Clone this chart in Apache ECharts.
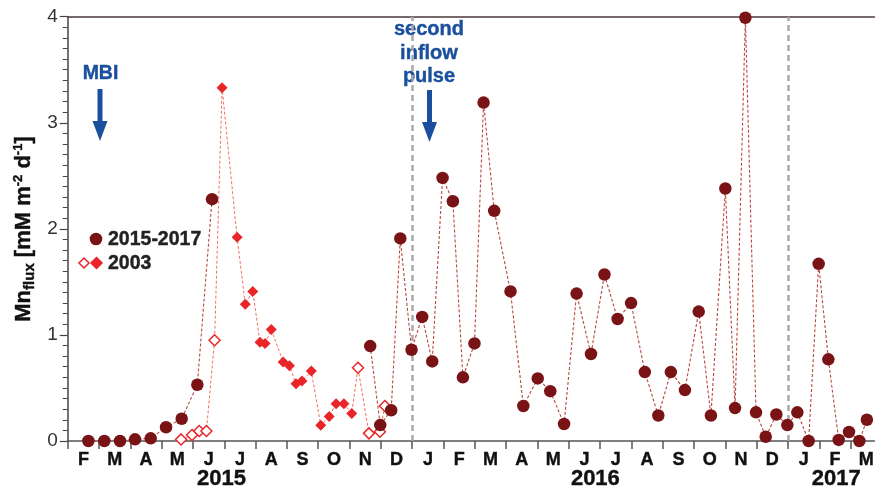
<!DOCTYPE html>
<html><head><meta charset="utf-8">
<script src="https://cdn.jsdelivr.net/npm/echarts@6/dist/echarts.min.js"></script>
<style>html,body{margin:0;padding:0;background:#fff}#c{width:877px;height:492px}</style>
</head><body><div id="c"></div>
<script>
// ---- data ----
const monthLabels = ['F','M','A','M','J','J','A','S','O','N','D','J','F','M','A','M','J','J','A','S','O','N','D','J','F','M'];
const yearLabels = ['2015','2016','2017'];
const yearMonthPos = [4.91, 16.85, 24.54];
// month offset from 1 Feb 2015 (x) and flux values (y)
const pos1517 = [0.66,1.17,1.67,2.15,2.65,3.14,3.64,4.14,4.61,7.0,9.66,9.98,10.33,10.62,10.98,11.32,11.64,11.97,12.30,12.62,12.99,13.28,13.62,14.14,14.55,15.01,15.41,15.85,16.25,16.71,17.14,17.56,17.99,18.43,18.86,19.26,19.71,20.15,20.54,21.00,21.31,21.64,21.98,22.29,22.63,22.98,23.30,23.66,23.98,24.29,24.62,24.95,25.28,25.52];
const val1517 = [0,0,0,0.016,0.025,0.13,0.21,0.53,2.28,null,0.895,0.15,0.29,1.91,0.86,1.17,0.75,2.48,2.26,0.60,0.92,3.19,2.17,1.41,0.33,0.59,0.47,0.16,1.39,0.82,1.57,1.15,1.30,0.65,0.24,0.65,0.48,1.22,0.24,2.38,0.31,3.99,0.27,0.04,0.25,0.15,0.27,0.0,1.67,0.77,0.01,0.085,0.0,0.20];
const pos2003 = [3.62,3.97,4.20,4.43,4.69,4.93,5.41,5.67,5.91,6.14,6.30,6.50,6.88,7.08,7.29,7.48,7.78,8.08,8.35,8.57,8.82,9.07,9.27,9.62,9.97,10.13];
const val2003 = [0.015,0.056,0.094,0.094,0.95,3.33,1.92,1.29,1.41,0.93,0.92,1.05,0.745,0.71,0.54,0.565,0.66,0.148,0.23,0.35,0.35,0.26,0.69,0.072,0.088,0.33];
const open2003 = [1,1,1,1,1,0,0,0,0,0,0,0,0,0,0,0,0,0,0,0,0,0,1,1,1,1];
const yearBreaks = [11, 23];
const seriesNames = ['2015-2017','2003'];

// ---- chart ----
const FONT = 'Liberation Sans, Arial, sans-serif';
const DARK = '#7a1315', RED = '#e8262a', BLUE = '#1a4f9d';
const chart = echarts.init(document.getElementById('c'), null, {renderer:'canvas'});
const XMAX = 25.76;
const monthW = (877 - 67.7) / XMAX;

const d1517 = pos1517.map((p,i) => [p, val1517[i] === null ? '-' : val1517[i]]);
const d2003 = pos2003.map((p,i) => ({
  value: [p, val2003[i]],
  itemStyle: open2003[i] ? {color:'#ffffff', borderColor: RED, borderWidth: 1.5} : {color: RED, borderWidth: 0}
}));

chart.setOption({
  backgroundColor: '#ffffff',
  animation: false,
  grid: {left: 67.7, right: 0, top: 16.7, bottom: 51},
  xAxis: [{
    type: 'value', min: 0, max: XMAX, interval: 1, position: 'bottom',
    axisLine: {show: true, lineStyle: {color: '#555', width: 1.5}},
    axisTick: {show: true, length: 8, lineStyle: {color: '#555', width: 1.5}},
    splitLine: {show: false},
    axisLabel: {
      show: true, align: 'left', margin: 10, showMaxLabel: false,
      formatter: v => { const l = Number.isInteger(v) ? monthLabels[v] : null; return l ? '{m|' + l + '}' : ''; },
      rich: {m: {width: monthW, align: 'center', fontSize: 18, fontWeight: 'bold', color: '#111', fontFamily: FONT,
                 textBorderColor: '#111', textBorderWidth: 0.4}}
    }
  }, {
    type: 'value', min: 0, max: XMAX, position: 'top',
    axisLine: {show: true, onZero: false, lineStyle: {color: '#4a3838', width: 1.6}},
    axisTick: {show: false}, axisLabel: {show: false}, splitLine: {show: false}
  }],
  yAxis: {
    type: 'value', min: 0, max: 4, interval: 1,
    axisLine: {show: true, lineStyle: {color: '#444', width: 1.5}},
    axisTick: {show: true, length: 8, lineStyle: {color: '#444', width: 1.2}},
    minorTick: {show: true, splitNumber: 10, length: 5, lineStyle: {color: '#444', width: 1}},
    splitLine: {show: false},
    axisLabel: {fontSize: 19, color: '#333', margin: 10, fontFamily: FONT}
  },
  series: [{
    name: seriesNames[1], type: 'line', data: d2003, xAxisIndex: 0,
    symbol: 'diamond', symbolSize: 11, z: 3,
    lineStyle: {color: '#f2705f', width: 1, type: [3, 2]},
    itemStyle: {color: RED}
  }, {
    name: seriesNames[0], type: 'line', data: d1517, xAxisIndex: 0,
    symbol: 'circle', symbolSize: 12.5, z: 4, connectNulls: false,
    lineStyle: {color: '#b8473d', width: 1.1, type: [3, 2]},
    itemStyle: {color: DARK, borderWidth: 0},
    markLine: {
      silent: true, symbol: 'none', label: {show: false}, z: 1,
      lineStyle: {color: '#a9a9a9', width: 2.5, type: [6, 4]},
      data: yearBreaks.map(x => ({xAxis: x}))
    }
  }]
});

function px(m, v) { return chart.convertToPixel({xAxisIndex: 0, yAxisIndex: 0}, [m, v]); }
function arrow(cx, top, tip) {
  return [
    {type: 'rect', shape: {x: cx - 2.5, y: top, width: 5, height: tip - top - 18}, style: {fill: BLUE}},
    {type: 'polygon', shape: {points: [[cx - 7.5, tip - 20], [cx + 7.5, tip - 20], [cx, tip]]}, style: {fill: BLUE}}
  ];
}
function diamond(cx, cy, r, fill, stroke) {
  return {type: 'polygon', shape: {points: [[cx, cy - r], [cx + r, cy], [cx, cy + r], [cx - r, cy]]},
    style: {fill: fill, stroke: stroke, lineWidth: 1.5}};
}
const bold = (size, color) => ({fontFamily: FONT, fontWeight: 'bold', fontSize: size, fill: color, stroke: color, lineWidth: 0.4});

const g = [];
// y-axis title
const tb = {fontFamily: FONT, fontWeight: 'bold', fill: '#111', stroke: '#111', lineWidth: 0.4, lineHeight: 28};
g.push({
  type: 'text', x: 24, y: 229, rotation: Math.PI / 2,
  style: {
    text: '{a|Mn}{s|flux}{a| [mM m}{p|-2}{a| d}{p|-1}{a|]}',
    align: 'center', verticalAlign: 'middle',
    rich: {
      a: Object.assign({fontSize: 22}, tb),
      s: Object.assign({fontSize: 15, padding: [12, 0, 0, 0]}, tb),
      p: Object.assign({fontSize: 13, padding: [0, 0, 11, 0]}, tb)
    }
  }
});
// legend
g.push({type: 'circle', shape: {cx: 96, cy: 239, r: 6.3}, style: {fill: DARK}});
g.push({type: 'text', x: 108, y: 240, style: Object.assign({text: seriesNames[0], align: 'left', verticalAlign: 'middle'}, bold(19.5, '#222'))});
g.push(diamond(84, 263, 5, '#fff', RED));
g.push(diamond(96.5, 263, 5.5, RED, RED));
g.push({type: 'text', x: 108, y: 264, style: Object.assign({text: seriesNames[1], align: 'left', verticalAlign: 'middle'}, bold(19.5, '#222'))});
// annotations
g.push({type: 'text', x: 100.5, y: 74, style: Object.assign({text: 'MBI', align: 'center', verticalAlign: 'middle'}, bold(19.5, BLUE))});
arrow(100, 89, 141).forEach(e => g.push(e));
g.push({type: 'text', x: 429, y: 53, style: Object.assign({text: 'second\ninflow\npulse', align: 'center', verticalAlign: 'middle', lineHeight: 23.5}, bold(20, BLUE))});
arrow(429.5, 90, 142).forEach(e => g.push(e));
// year labels
yearLabels.forEach((t, i) => {
  const p = px(yearMonthPos[i], 0);
  g.push({type: 'text', x: p[0], y: 479, style: Object.assign({text: t, align: 'center', verticalAlign: 'middle'}, bold(22, '#111'))});
});
chart.setOption({graphic: g});
</script></body></html>
